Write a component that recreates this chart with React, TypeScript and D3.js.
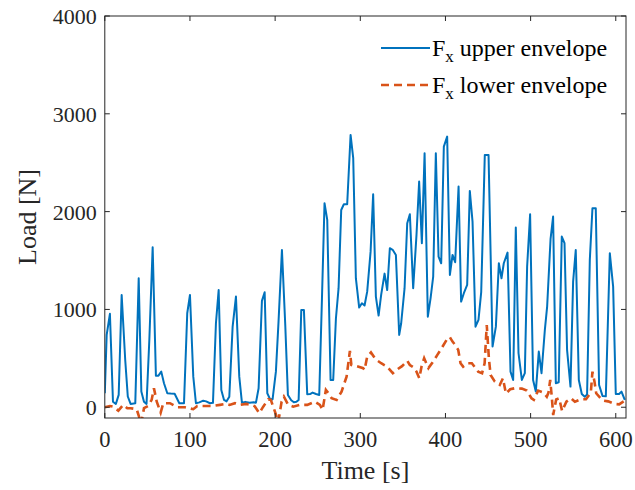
import React from "react";
import * as d3 from "d3";

const upperTime = [0,2.2,6,9.6,13,16.3,19.8,24,27,30.3,35.8,39.8,42.9,46,49,52.3,56.2,60,63,66.3,69.5,73.4,77.3,82,87.5,93,96.8,100,103.9,107,111,115.6,119,123.5,127,130.5,133.7,136.8,140,143,146.2,150.1,154,157.9,161,165,170,175,177.5,180.6,184.5,187.7,190.8,193.9,197,200.9,204,208,211.9,215,218.9,222,225,227.6,230.7,233.8,237.7,241,244,248,251.8,255,258,261.2,265.1,268.2,271.4,274.5,277.6,280.7,284.6,288.6,291.7,294.8,298.7,301.9,305,308.1,312.1,315.1,318.3,321.5,324.5,328.5,331.6,334.7,338,341.8,345.7,348,352,355.1,358.2,362.1,366,369.1,372.3,375.5,379.3,382.5,385.6,388.7,391.9,395,398.1,402,405.2,408.3,411.4,415.4,418.4,421.6,425.5,428.6,431.8,435.3,438.8,442,446.2,450.6,455.3,459.2,462.7,465.8,468.5,472.9,476.4,479.5,482.6,485.8,489.7,493.2,495.9,499.4,502.9,506.1,509.6,512.8,516.7,519.4,523.4,526.4,529.6,533,536.6,539.8,542.8,546.8,549.9,553,556.6,560.1,563.6,566.3,569.5,572.6,576.5,580.4,584.4,588.3,593,596.9,600,603.9,606.7,610.6];
const upperLoad = [143,740,955,57,34,126,1148,480,110,34,40,1318,160,57,34,690,1636,323,323,364,245,143,140,138,41,41,961,1148,313,41,50,67,60,41,45,859,1199,177,75,60,108,824,1131,313,47,55,45,50,47,194,1087,1176,143,85,80,364,875,1608,841,126,72,51,55,75,995,995,133,135,150,135,126,1114,2086,1915,279,279,910,1217,2017,2075,2075,2784,2546,1319,1019,1063,1040,1182,1591,2178,1131,937,1148,1366,1199,1626,1610,1557,739,859,1217,1881,1973,1217,1762,2307,1677,2597,926,1114,1336,2597,1540,1472,2665,2767,1353,1557,1483,2256,1080,1166,1250,2212,1898,824,893,1180,2580,2580,620,824,1472,1319,1472,1581,364,279,1837,552,279,348,1438,1973,279,160,569,348,790,1029,1718,1949,245,255,1745,1677,586,211,1284,1608,279,136,108,130,1506,2035,2035,228,116,112,1575,1233,136,136,160,75];

const lowerTime = [0,6,10,15.9,21.7,26.4,30.3,37.4,40,42.5,45,46,51,55,57.7,61,65.6,68.7,76.5,85,94,103.9,108.6,117.6,126.6,135.2,142.3,146.5,152.8,158.7,165.7,172.5,176,181.4,186,192,194.9,199.8,203.7,207.6,210.3,215.4,221.2,229.1,237.7,246.7,252.6,255.7,259.6,263,266.3,272.2,278,283.9,287.8,289.5,295.6,303.4,305,308.1,312.5,318,324.5,331.6,338.2,344,349,355.1,358.2,362,366,369.3,372,375,380,385,390.5,395.4,401.3,405,408.3,411.4,415,417.7,420.8,426.6,431,438.4,443,446,448.5,451,453,458,463.8,467.5,471,476,481.5,489.7,495.5,501,503.8,508.8,515,519,521,523,524.9,526.5,530,533.5,537,542,547.5,552,559,565,570.7,572.6,575,577,584.4,591,598.5,604,610.8];
const lowerLoad = [0,13,5,-35,24,-10,-10,-20,-90,-170,-60,-10,13,75,194,57,-55,41,41,0,0,-20,13,13,13,24,34,24,41,24,34,24,10,-61,6,82,75,-45,-150,57,108,24,6,24,24,57,24,-28,177,140,92,75,160,313,575,432,420,399,381,517,560,490,450,415,348,390,420,475,432,410,364,296,420,501,400,460,535,603,688,718,671,637,586,450,415,450,450,364,348,450,841,500,330,262,228,296,140,184,194,190,170,92,75,170,150,108,150,279,100,-80,80,92,-40,57,92,57,82,82,150,364,262,143,70,60,34,30,70];

const xTicks = [0, 100, 200, 300, 400, 500, 600];
const yTicks = [0, 1000, 2000, 3000, 4000];

const W = 635, H = 490;
const L = 104.8, R = 626, T = 16, B = 418;
const FONT = "'Liberation Serif', 'Times New Roman', serif";
const AX = "#262626";

export default function App() {
  const x = d3.scaleLinear().domain([0, 612]).range([L, R]);
  const y = d3.scaleLinear().domain([-110, 4000]).range([B, T]);
  const upper = upperTime.map((t, i) => [t, upperLoad[i]] as [number, number]);
  const lower = lowerTime.map((t, i) => [t, lowerLoad[i]] as [number, number]);
  const line = d3.line<[number, number]>().x(d => x(d[0])).y(d => y(d[1]));
  const tk = 5;
  return (
    <svg width={W} height={H} style={{ position: "absolute", left: 0, top: 0, background: "#fff" }} fontFamily={FONT}>
      <defs>
        <clipPath id="plot"><rect x={L} y={T} width={R - L} height={B - T} /></clipPath>
      </defs>
      <rect x={0} y={0} width={W} height={H} fill="#fff" />
      <g clipPath="url(#plot)">
        <path d={line(upper) || ""} fill="none" stroke="#0072BD" strokeWidth={2} strokeLinejoin="round" />
        <path d={line(lower) || ""} fill="none" stroke="#D95319" strokeWidth={2.6} strokeDasharray="8,5" />
      </g>
      <rect x={L} y={T} width={R - L} height={B - T} fill="none" stroke={AX} strokeWidth={1} />
      {xTicks.map(v => (
        <g key={"x" + v}>
          <line x1={x(v)} x2={x(v)} y1={B} y2={B - tk} stroke={AX} />
          <line x1={x(v)} x2={x(v)} y1={T} y2={T + tk} stroke={AX} />
          <text x={x(v)} y={B + 29} textAnchor="middle" fontSize={22.5} fill={AX}>{v}</text>
        </g>
      ))}
      {yTicks.map(v => (
        <g key={"y" + v}>
          <line x1={L} x2={L + tk} y1={y(v)} y2={y(v)} stroke={AX} />
          <line x1={R} x2={R - tk} y1={y(v)} y2={y(v)} stroke={AX} />
          <text x={L - 8} y={y(v) + 8} textAnchor="end" fontSize={22} fill={AX}>{v}</text>
        </g>
      ))}
      <text x={(L + R) / 2} y={479} textAnchor="middle" fontSize={26} fill={AX}>Time [s]</text>
      <text transform={`translate(36,${(T + B) / 2}) rotate(-90)`} textAnchor="middle" fontSize={26} fill={AX}>Load [N]</text>
      <g>
        <line x1={381} x2={430} y1={48} y2={48} stroke="#0072BD" strokeWidth={2} />
        <text x={432} y={56} fontSize={24} fill="#000">F<tspan fontSize={17} dy={6}>x</tspan><tspan dy={-6}> upper envelope</tspan></text>
        <line x1={381} x2={430} y1={85} y2={85} stroke="#D95319" strokeWidth={2.6} strokeDasharray="8,5" />
        <text x={432} y={93} fontSize={24} fill="#000">F<tspan fontSize={17} dy={6}>x</tspan><tspan dy={-6}> lower envelope</tspan></text>
      </g>
    </svg>
  );
}
